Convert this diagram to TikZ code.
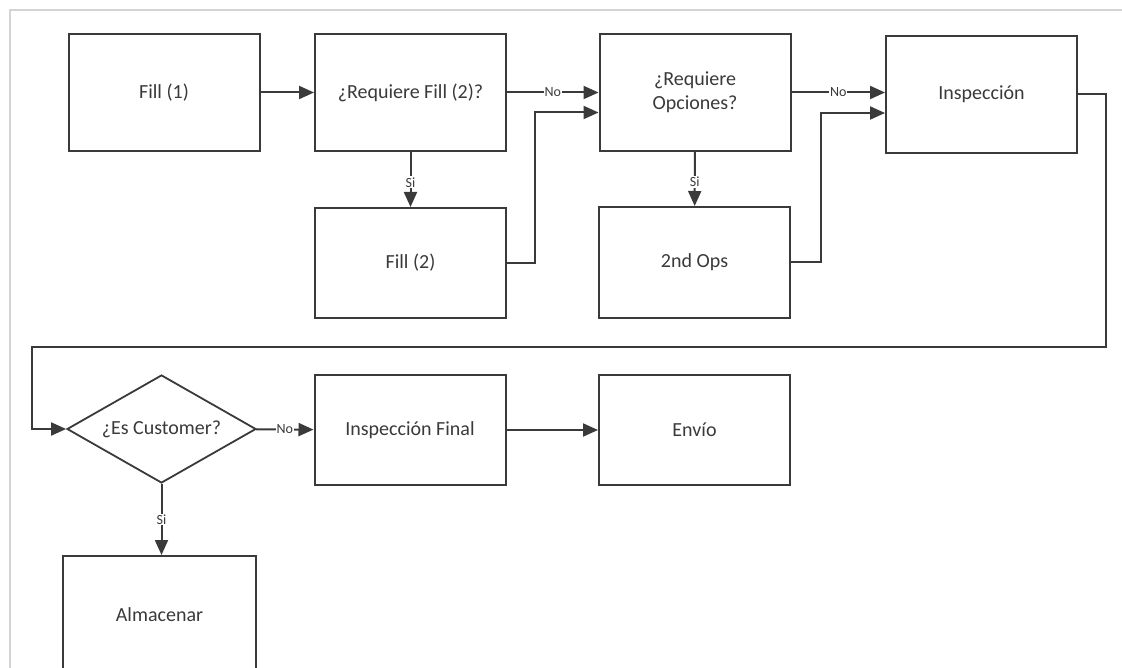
\documentclass[tikz,border=0pt]{standalone}
\usepackage{fontspec}
\setmainfont{Carlito}
\usetikzlibrary{shapes.geometric,arrows.meta,calc}
\definecolor{ink}{HTML}{3A3A3A}
\definecolor{frame}{HTML}{D4D4D4}
\tikzset{
  box/.style={draw=ink, line width=2pt, minimum width=191pt, minimum height=117pt,
              inner sep=2pt, text=ink, font=\fontsize{20}{24}\selectfont, align=center},
  decision/.style={diamond, draw=ink, line width=1.8pt, aspect=1.75, inner sep=0pt,
              minimum width=189pt, minimum height=108pt, text=ink,
              font=\fontsize{20}{24}\selectfont},
  flow/.style={draw=ink, line width=2pt, -{Triangle[length=15pt,width=13pt]}},
  tag/.style={fill=white, inner sep=1pt, text=ink, font=\fontsize{14}{16}\selectfont}
}
\begin{document}
\begin{tikzpicture}[x=1pt,y=-1pt]
  \clip (0,0) rectangle (1122,668);
  \fill[white] (0,0) rectangle (1122,668);
  % page frame
  \draw[frame, line width=2pt] (10,668) -- (10,10) -- (1122,10);

  % first row
  \node[box] (fill1) at (164,92.5) {Fill (1)};
  \node[box] (reqfill) at (410.5,92.5) {¿Requiere Fill (2)?};
  \node[box] (reqopc) at (695,92.5) {¿Requiere\\Opciones?};
  \node[box] (insp) at (981.5,94.5) {Inspección};

  % second row
  \node[box, minimum height=110pt] (fill2) at (410.5,263) {Fill (2)};
  \node[box, minimum height=111pt] (ops) at (694.5,262.5) {2nd Ops};

  % third row
  \node[decision] (cust) at (161.5,429) {¿Es Customer?};
  \node[box, minimum height=110pt] (inspfin) at (410,430) {Inspección Final};
  \node[box, minimum height=110pt] (envio) at (694.5,430) {Envío};

  % fourth row
  \node[box, minimum width=193pt] (alm) at (159.5,614.5) {Almacenar};

  % loop-back corners
  \coordinate (loopR) at (1106,347);
  \coordinate (loopL) at (32,347);

  % connectors
  \draw[flow] (fill1) -- (reqfill);
  \draw[flow] (reqfill) -- node[tag] {No} (reqopc);
  \draw[flow] (reqfill) -- node[tag, pos=0.55] {Si} (fill2);
  \draw[flow] (fill2.east) -- ++(28,0) |- ($(reqopc.west)+(0,20)$);
  \draw[flow] (reqopc) -- node[tag] {No} (insp.west |- reqopc.east);
  \draw[flow] (reqopc) -- node[tag, pos=0.55] {Si} (ops);
  \draw[flow] (ops.east) -- ++(30,0) |- ($(insp.west)+(0,18.5)$);
  \draw[flow] (insp.east) -| (loopR) -- (loopL) |- (cust.west);
  \draw[flow] (cust) -- node[tag] {No} (inspfin);
  \draw[flow] (inspfin) -- (envio);
  \draw[flow] (cust.south) -- node[tag] {Si} (alm.north -| cust.south);
\end{tikzpicture}
\end{document}
